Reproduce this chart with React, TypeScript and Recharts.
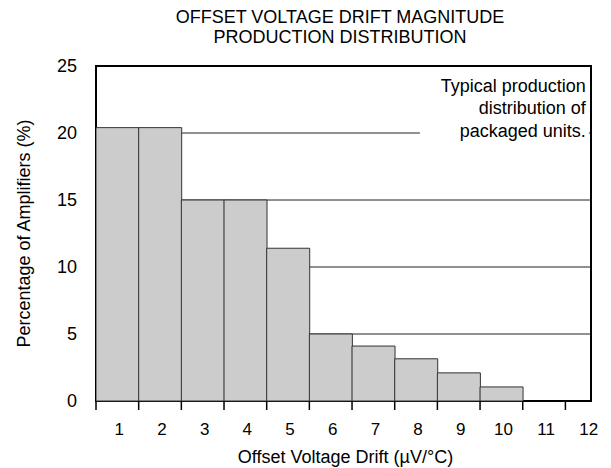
import React from "react";
import { BarChart, Bar, XAxis, YAxis, CartesianGrid, ReferenceArea } from "recharts";

// offset voltage drift bins (µV/°C) and share of amplifiers in each (%)
const driftBins = [1, 2, 3, 4, 5, 6, 7, 8, 9, 10, 11, 12];
const percentOfAmps = [20.4, 20.4, 15.0, 15.0, 11.4, 5.0, 4.1, 3.15, 2.1, 1.05, 0, 0];
const yTicks = [0, 5, 10, 15, 20, 25];
const noteLines = ["Typical production", "distribution of", "packaged units."];
const titleLines = ["OFFSET VOLTAGE DRIFT MAGNITUDE", "PRODUCTION DISTRIBUTION"];

const W = 611;
const H = 468;
const Y_AXIS_W = 96;
const RIGHT = 20;
const X_MIN = 0.5;
const X_MAX = 12.1;
const HALF_BIN = (W - Y_AXIS_W - RIGHT) / (X_MAX - X_MIN) / 2;
const FONT = "'Liberation Sans', Arial, sans-serif";

const data = driftBins.map((d, i) => ({ drift: d, percent: percentOfAmps[i] }));

const XTick = (props: any) => {
  const { x, y, payload } = props;
  return (
    <g>
      <line x1={x - HALF_BIN} x2={x - HALF_BIN} y1={y} y2={y + 9} stroke="#000" strokeWidth={1.5} />
      <text x={x + 2} y={y + 34} textAnchor="middle" fontSize={17} fill="#000">
        {payload.value}
      </text>
    </g>
  );
};

const NoteBox = (props: any) => {
  const { x, y, width, height } = props;
  return (
    <g>
      <rect x={x} y={y} width={width} height={height} fill="#fff" />
      {noteLines.map((t, i) => (
        <text key={t} x={x + width - 3} y={y + 19 + i * 22.7} textAnchor="end" fontSize={18} fill="#000">
          {t}
        </text>
      ))}
    </g>
  );
};

export default function App() {
  return (
    <div style={{ position: "absolute", left: 0, top: 0, width: W, height: H, fontFamily: FONT, background: "#fff" }}>
      <div
        style={{
          position: "absolute",
          left: 140,
          top: 6.5,
          width: 400,
          textAlign: "center",
          fontSize: 18,
          lineHeight: "20px",
          color: "#000",
        }}
      >
        {titleLines.map((t) => (
          <div key={t}>{t}</div>
        ))}
      </div>
      <BarChart
        width={W}
        height={H}
        data={data}
        margin={{ top: 66, right: RIGHT, bottom: 0, left: 0 }}
        barCategoryGap={0}
        barGap={0}
        style={{ fontFamily: FONT }}
      >
        <CartesianGrid vertical={false} stroke="#222" strokeWidth={1} />
        <XAxis
          type="number"
          dataKey="drift"
          domain={[X_MIN, X_MAX]}
          ticks={driftBins}
          interval={0}
          allowDataOverflow
          height={67}
          tickSize={0}
          tickMargin={0}
          axisLine={false}
          tickLine={false}
          tick={XTick}
          label={{
            value: "Offset Voltage Drift (µV/°C)",
            position: "insideBottom",
            offset: 5,
            dx: 2,
            fontSize: 18,
            fill: "#000",
          }}
        />
        <YAxis
          domain={[0, 25]}
          ticks={yTicks}
          interval={0}
          width={Y_AXIS_W}
          tickSize={0}
          tickMargin={19}
          axisLine={false}
          tickLine={false}
          tick={{ fontSize: 18, fill: "#000" }}
          label={{
            value: "Percentage of Amplifiers (%)",
            angle: -90,
            position: "insideLeft",
            offset: 24,
            fontSize: 18,
            fill: "#000",
            style: { textAnchor: "middle" },
          }}
        />
        <ReferenceArea x1={8.09} x2={12.05} y1={18} y2={24.5} shape={NoteBox} />
        <Bar dataKey="percent" fill="#cccccc" stroke="#333" strokeWidth={1} isAnimationActive={false} />
        <ReferenceArea x1={X_MIN} x2={X_MAX} y1={0} y2={25} fill="none" fillOpacity={0} stroke="#000" strokeWidth={2} />
      </BarChart>
    </div>
  );
}
